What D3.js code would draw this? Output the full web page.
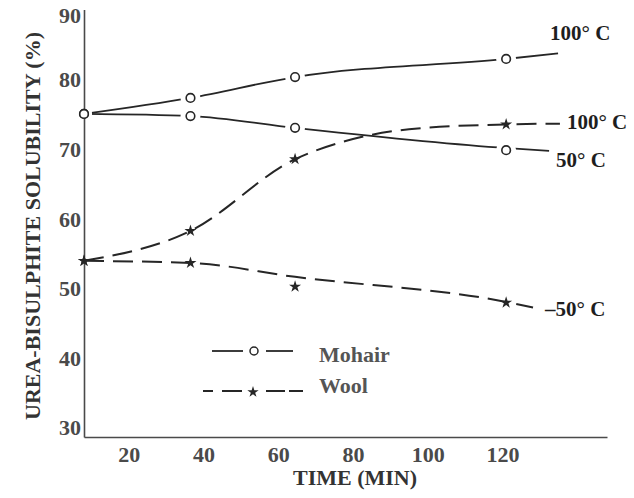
<!DOCTYPE html>
<html>
<head>
<meta charset="utf-8">
<script src="https://cdn.jsdelivr.net/npm/d3@7"></script>
<style>
  html, body { margin: 0; padding: 0; background: #fff; }
  svg { display: block; }
  text { font-family: "Liberation Serif", "Times New Roman", serif; font-weight: bold; }
</style>
</head>
<body>
<svg id="chart" width="634" height="498"></svg>
<script>
// ---- data ----
const times = [8, 36.5, 64.5, 121];            // minutes
const mohair100 = [75.1, 77.4, 80.4, 83.0];
const mohair50  = [75.1, 74.8, 73.1, 69.9];
const wool100   = [54.0, 58.3, 68.6, 73.6];
const wool50    = [54.0, 53.7, 50.3, 48.0];
// the hand-drawn curves (time, value)
const mohair100CurveT = [8, 36.5, 64.5, 121, 134.9];
const mohair100CurveV = [75.1, 77.4, 80.4, 83.0, 83.8];
const mohair50CurveT  = [8, 36.5, 64.5, 121, 132.5];
const mohair50CurveV  = [75.1, 74.8, 73.1, 70.2, 69.8];
const wool100CurveT   = [8, 36.5, 64.5, 80, 95, 121, 135.4];
const wool100CurveV   = [54.0, 58.3, 68.6, 71.5, 72.9, 73.6, 73.7];
const wool50CurveT    = [8, 36.5, 64.5, 121, 128.2];
const wool50CurveV    = [54.0, 53.7, 51.7, 48.1, 47.3];
const seriesLabels = ["100° C", "50° C", "100° C", "–50° C"];
const xTicks = [20, 40, 60, 80, 100, 120];
const yTicks = [30, 40, 50, 60, 70, 80, 90];
const legendLabels = ["Mohair", "Wool"];

const svg = d3.select("#chart");
const x = d3.scaleLinear().domain([8, 148]).range([84, 607]);
const y = d3.scaleLinear().domain([28.7, 90.1]).range([437, 9.5]);

const ink = "#262626";
const series = [
  { vals: mohair100, ct: mohair100CurveT, cv: mohair100CurveV, kind: "mohair", label: seriesLabels[0], lab: [-8, -13] },
  { vals: mohair50,  ct: mohair50CurveT,  cv: mohair50CurveV,  kind: "mohair", label: seriesLabels[1], lab: [7, 16] },
  { vals: wool100,   ct: wool100CurveT,   cv: wool100CurveV,   kind: "wool",   label: seriesLabels[2], lab: [7, 5] },
  { vals: wool50,    ct: wool50CurveT,    cv: wool50CurveV,    kind: "wool",   label: seriesLabels[3], lab: [12, 9] }
];

const line = d3.line().x(d => x(d[0])).y(d => y(d[1])).curve(d3.curveMonotoneX);

const gLines = svg.append("g");
series.forEach(s => {
  const pts = s.ct.map((t, i) => [t, s.cv[i]]);
  gLines.append("path")
    .attr("d", line(pts))
    .attr("fill", "none")
    .attr("stroke", ink)
    .attr("stroke-width", s.kind === "mohair" ? 1.8 : 2)
    .attr("stroke-dasharray", s.kind === "wool" ? "20,9" : null);
});

// knockouts around mohair circles
series.filter(s => s.kind === "mohair").forEach(s => {
  svg.append("g").selectAll("circle").data(times.map((t, i) => [t, s.vals[i]]))
    .join("circle")
    .attr("cx", d => x(d[0])).attr("cy", d => y(d[1]))
    .attr("r", (d, i) => i === 0 ? 8 : 10).attr("fill", "#fff");
});

// axes
const yAxis = d3.axisLeft(y).tickValues(yTicks).tickSize(0).tickPadding(3).tickFormat(d3.format("d"));
const xAxis = d3.axisBottom(x).tickValues(xTicks).tickSize(0).tickPadding(9).tickFormat(d3.format("d"));
const gy = svg.append("g").attr("transform", "translate(84,0)").call(yAxis);
const gx = svg.append("g").attr("transform", "translate(0,437)").call(xAxis);
[gx, gy].forEach(g => {
  g.select(".domain").attr("stroke", "#4a4a4a").attr("stroke-width", 1.6);
  g.selectAll("text").attr("font-size", 22).attr("fill", "#4a4a4a")
    .attr("font-family", "'Liberation Serif', serif").attr("font-weight", "bold");
});
// the top label sits a little lower in the reference
gy.selectAll(".tick text").filter(d => d === 90).attr("dy", "0.55em");

// markers
series.forEach(s => {
  const pts = times.map((t, i) => [t, s.vals[i]]);
  if (s.kind === "mohair") {
    svg.append("g").selectAll("circle").data(pts).join("circle")
      .attr("cx", d => x(d[0])).attr("cy", d => y(d[1])).attr("r", 4.3)
      .attr("fill", "#fff").attr("stroke", ink).attr("stroke-width", 1.6);
  } else {
    svg.append("g").selectAll("path").data(pts).join("path")
      .attr("d", d3.symbol(d3.symbolStar, 45))
      .attr("transform", d => `translate(${x(d[0])},${y(d[1])})`)
      .attr("fill", ink);
  }
});

// curve labels
series.forEach(s => {
  const n = s.ct.length - 1;
  svg.append("text")
    .attr("x", x(s.ct[n]) + s.lab[0])
    .attr("y", y(s.cv[n]) + s.lab[1])
    .attr("font-size", 21).attr("fill", "#1e1e1e")
    .text(s.label);
});

// axis titles
svg.append("text").attr("x", 355).attr("y", 485).attr("text-anchor", "middle")
  .attr("font-size", 22).attr("fill", "#333").text("TIME (MIN)");
svg.append("text").attr("transform", "translate(40,226) rotate(-90)")
  .attr("text-anchor", "middle").attr("font-size", 22).attr("fill", "#333")
  .text("UREA-BISULPHITE SOLUBILITY (%)");

// legend
const lg = svg.append("g");
lg.append("line").attr("x1", 212).attr("x2", 243).attr("y1", 351).attr("y2", 351)
  .attr("stroke", ink).attr("stroke-width", 1.8);
lg.append("line").attr("x1", 266).attr("x2", 293).attr("y1", 351).attr("y2", 351)
  .attr("stroke", ink).attr("stroke-width", 1.8);
lg.append("circle").attr("cx", 254).attr("cy", 351).attr("r", 4)
  .attr("fill", "#fff").attr("stroke", ink).attr("stroke-width", 1.5);
lg.append("line").attr("x1", 203).attr("x2", 245).attr("y1", 391).attr("y2", 391)
  .attr("stroke", ink).attr("stroke-width", 1.8).attr("stroke-dasharray", "10,9,20,20");
lg.append("line").attr("x1", 266).attr("x2", 303).attr("y1", 391).attr("y2", 391)
  .attr("stroke", ink).attr("stroke-width", 1.8).attr("stroke-dasharray", "19,4,15");
lg.append("path").attr("d", d3.symbol(d3.symbolStar, 40))
  .attr("transform", "translate(253,392)").attr("fill", ink);
lg.selectAll("text.leg").data(legendLabels).join("text").attr("class", "leg")
  .attr("x", 319).attr("y", (d, i) => 362 + i * 31)
  .attr("font-size", 22).attr("fill", "#555").text(d => d);
</script>
</body>
</html>
